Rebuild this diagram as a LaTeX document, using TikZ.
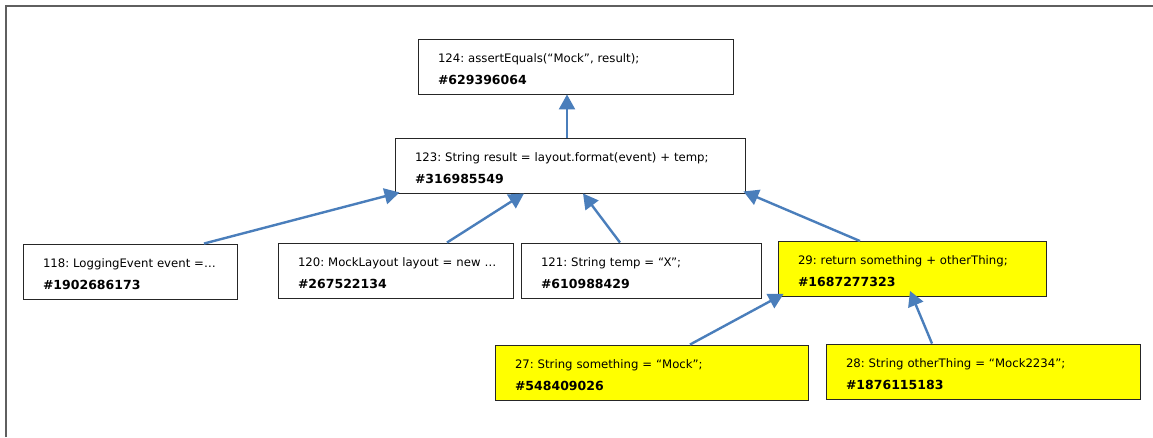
\documentclass[tikz,border=0pt]{standalone}
\usepackage{fontspec}
\setmainfont{DejaVu Sans}
\usetikzlibrary{arrows.meta}
\definecolor{flowblue}{HTML}{4A7EBB}
\definecolor{framegray}{HTML}{5F5F5F}
\definecolor{hotyellow}{HTML}{FFFF00}
\frenchspacing
\newcommand{\stmtbox}[2]{\rule{0pt}{14pt}\mbox{#1}\\\mbox{\fontsize{12.5}{22}\selectfont\bfseries\##2}}
\begin{document}
\begin{tikzpicture}[x=1pt,y=-1pt,
    stmt/.style={draw=black!85,line width=0.9pt,fill=white,inner xsep=20pt,inner ysep=0pt,
      minimum height=55pt,align=left,font=\fontsize{11.7}{22}\selectfont},
    hot/.style={stmt,fill=hotyellow},
    flow/.style={draw=flowblue,line width=2.4pt,-{Triangle[length=15pt,width=16pt]}}]
        \useasboundingbox (0,0) rectangle (1153,437);
        \draw[framegray,line width=2.2pt] (6,437) -- (6,6) -- (1153,6);

        \node[stmt,text width=275pt] (s124) at (575.5,66.5) {\stmtbox{124: assertEquals(“Mock”, result);}{629396064}};
        \node[stmt,text width=310pt] (s123) at (570,165.5) {\stmtbox{123: String result = layout.format(event) + temp;}{316985549}};

        \node[stmt,text width=174pt] (s118) at (130,271.5) {\stmtbox{118: LoggingEvent event =…}{1902686173}};
        \node[stmt,text width=195pt] (s120) at (395.5,270.5) {\stmtbox{120: MockLayout layout = new …}{267522134}};
        \node[stmt,text width=200pt] (s121) at (641,270.5) {\stmtbox{121: String temp = “X”;}{610988429}};
        \node[hot,text width=228pt] (s29) at (912,269) {\stmtbox{29: return something + otherThing;}{1687277323}};

        \node[hot,text width=273pt] (s27) at (651.5,372.5) {\stmtbox{27: String something = “Mock”;}{548409026}};
        \node[hot,text width=274pt] (s28) at (983,371.5) {\stmtbox{28: String otherThing = “Mock2234”;}{1876115183}};

        \draw[flow] ([xshift=-3pt]s123.north) -- ([xshift=-8.5pt]s124.south);
        \draw[flow] ([xshift=74pt]s118.north) -- ([xshift=5pt,yshift=1pt]s123.south west);
        \draw[flow] ([xshift=51.5pt]s120.north) -- ([xshift=-46pt]s123.south);
        \draw[flow] ([xshift=-21pt]s121.north) -- ([xshift=13pt]s123.south);
        \draw[flow] ([xshift=-52pt]s29.north) -- ([xshift=-2pt,yshift=2pt]s123.south east);
        \draw[flow] ([xshift=38.5pt]s27.north) -- ([xshift=6pt,yshift=3pt]s29.south west);
        \draw[flow] ([xshift=-51pt]s28.north) -- ([xshift=-2pt,yshift=6pt]s29.south);
\end{tikzpicture}
\end{document}
